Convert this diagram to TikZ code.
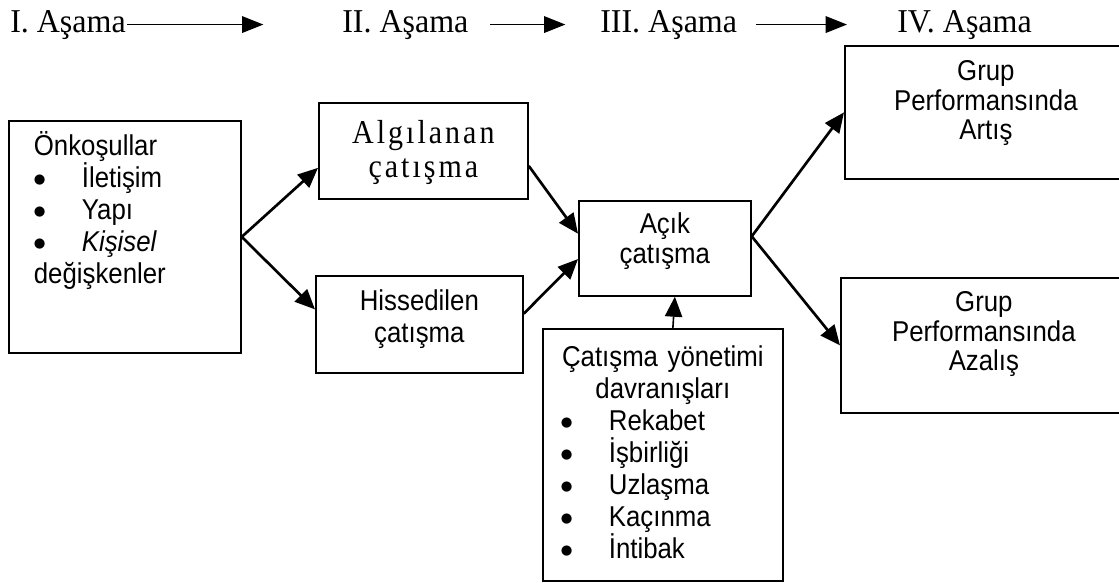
\documentclass[tikz,border=0pt]{standalone}
\usepackage{fontspec}
\setmainfont{Liberation Sans}[FakeStretch=0.9]
\newfontfamily\asamafont{Liberation Serif}[FakeStretch=0.96]
\newfontfamily\genisfont{Liberation Serif}[FakeStretch=0.9,LetterSpace=9]
\newfontfamily\isaretfont{DejaVu Sans}
\usetikzlibrary{arrows.meta}

\newcommand{\madde}[1]{\makebox[36pt][l]{\raisebox{3.5pt}{\isaretfont\fontsize{10}{12}\selectfont ●}}#1}

\begin{document}
\begin{tikzpicture}[x=0.75pt,y=-0.75pt,
	kutu/.style={draw, line width=1.3pt, inner sep=0pt, anchor=north west, align=center, font=\fontsize{21.5}{24}\selectfont},
	asama/.style={inner sep=0pt, anchor=base west, font=\asamafont\fontsize{25}{27}\selectfont},
	ok/.style={-{Triangle[length=15pt,width=13pt]}, line width=2pt},
	baslikok/.style={-{Triangle[length=16pt,width=12.5pt]}, line width=1pt}]

	\useasboundingbox (0,0) rectangle (1119,582);

	\node[asama] (asama1) at (10,32){I. Aşama};
	\node[asama] (asama2) at (342,32){II. Aşama};
	\node[asama] (asama3) at (600,32){III. Aşama};
	\node[asama] (asama4) at (897,32){IV. Aşama};

	\draw[baslikok, shorten <=1pt, shorten >=59pt] (asama1) -- (asama2);
	\draw[baslikok, shorten <=16pt, shorten >=26pt] (asama2) -- (asama3);
	\draw[baslikok, shorten <=14pt, shorten >=37.5pt] (asama3) -- (asama4);

	\node[kutu, align=left, inner xsep=18.75pt, text width=136.5pt, text height=26.25pt, text depth=147.75pt] (onkosul) at (8,120){Önkoşullar\\\madde{İletişim}\\\madde{Yapı}\\\madde{\textit{Kişisel}}\\değişkenler};

	\node[kutu, text width=156.75pt, text height=30.75pt, text depth=41.25pt, font=\genisfont\fontsize{25}{25.5}\selectfont] (algilanan) at (318,102){Algılanan\\çatışma};
	\node[kutu, text width=155.25pt, text height=26.25pt, text depth=46.5pt] (hissedilen) at (315,275){Hissedilen\\çatışma};

	\node[kutu, text width=129pt, text height=24.75pt, text depth=46.5pt, font=\fontsize{21.5}{22.5}\selectfont] (acik) at (578,200){Açık\\çatışma};
	\node[kutu, align=left, inner xsep=13.5pt, text width=153pt, text height=28.5pt, text depth=160.5pt] (yonetim) at (542,328){\makebox[153pt]{Çatışma yönetimi}\\\makebox[153pt]{davranışları}\\\madde{Rekabet}\\\madde{İşbirliği}\\\madde{Uzlaşma}\\\madde{Kaçınma}\\\madde{İntibak}};

	\node[kutu, text width=211.5pt, text height=26.25pt, text depth=73.5pt, font=\fontsize{21.5}{22}\selectfont] (artis) at (844,45){Grup\\Performansında\\Artış};
	\node[kutu, text width=214.5pt, text height=25.5pt, text depth=75.75pt, font=\fontsize{21.5}{22}\selectfont] (azalis) at (840,277){Grup\\Performansında\\Azalış};

	\draw[ok] (onkosul.east) -- ([yshift=-12.75pt]algilanan.west);
	\draw[ok] (onkosul.east) -- ([yshift=11.25pt]hissedilen.west);
	\draw[ok] ([yshift=-11.25pt]algilanan.east) -- ([yshift=11pt]acik.west);
	\draw[ok] ([yshift=8pt]hissedilen.east) -- ([yshift=-8pt]acik.west);
	\draw[ok] ([yshift=9pt]acik.east) -- (artis.west);
	\draw[ok] ([yshift=9pt]acik.east) -- (azalis.west);
	\draw[ok, line width=1.2pt] ([xshift=7.5pt]yonetim.north) -- ([xshift=7.5pt]acik.south);

	%\node[] at (985,20){IV. Aşama};
\end{tikzpicture}
\end{document}
